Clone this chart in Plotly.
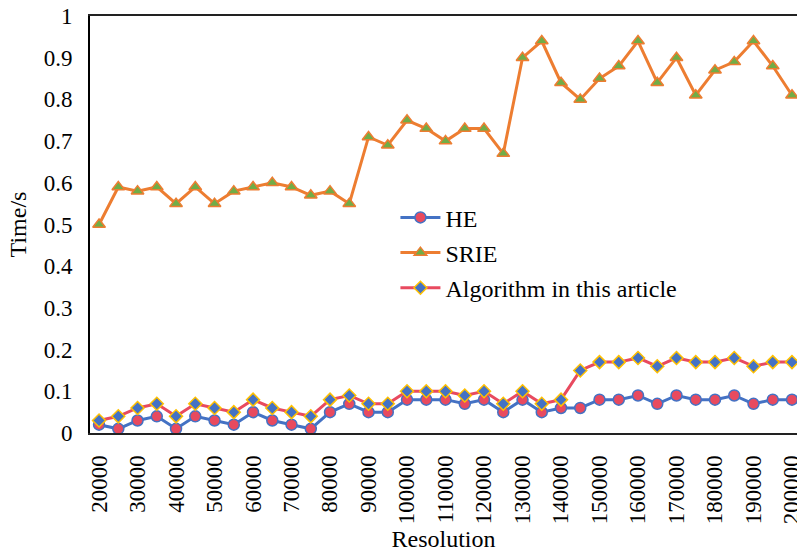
import plotly.graph_objects as go

resolutions = [str(v) for v in range(20000, 200001, 5000)]
he = [0.02, 0.01, 0.03, 0.04, 0.01, 0.04, 0.03, 0.02, 0.05, 0.03, 0.02, 0.01, 0.05, 0.07,
      0.05, 0.05, 0.08, 0.08, 0.08, 0.07, 0.08, 0.05, 0.08, 0.05, 0.06, 0.06, 0.08, 0.08,
      0.09, 0.07, 0.09, 0.08, 0.08, 0.09, 0.07, 0.08, 0.08]
srie = [0.50, 0.59, 0.58, 0.59, 0.55, 0.59, 0.55, 0.58, 0.59, 0.60, 0.59, 0.57, 0.58, 0.55,
        0.71, 0.69, 0.75, 0.73, 0.70, 0.73, 0.73, 0.67, 0.90, 0.94, 0.84, 0.80, 0.85, 0.88,
        0.94, 0.84, 0.90, 0.81, 0.87, 0.89, 0.94, 0.88, 0.81]
algo = [0.03, 0.04, 0.06, 0.07, 0.04, 0.07, 0.06, 0.05, 0.08, 0.06, 0.05, 0.04, 0.08, 0.09,
        0.07, 0.07, 0.10, 0.10, 0.10, 0.09, 0.10, 0.07, 0.10, 0.07, 0.08, 0.15, 0.17, 0.17,
        0.18, 0.16, 0.18, 0.17, 0.17, 0.18, 0.16, 0.17, 0.17]
tick_labels = resolutions[::2]
y_ticks = [0, 0.1, 0.2, 0.3, 0.4, 0.5, 0.6, 0.7, 0.8, 0.9, 1]
y_tick_text = ["0", "0.1", "0.2", "0.3", "0.4", "0.5", "0.6", "0.7", "0.8", "0.9", "1"]

FONT = "'Liberation Serif', 'Times New Roman', Times, serif"

fig = go.Figure()
fig.add_trace(go.Scatter(
    x=resolutions, y=he, name="HE", mode="lines+markers", legendgroup="a",
    line=dict(color="#4472C4", width=3),
    marker=dict(symbol="circle", size=11, color="#E84A5F", line=dict(color="#4472C4", width=1.5)),
    cliponaxis=False))
fig.add_trace(go.Scatter(
    x=resolutions, y=srie, name="SRIE", mode="lines+markers", legendgroup="b",
    line=dict(color="#ED7D31", width=3),
    marker=dict(symbol="triangle-up", size=11, color="#70AD47", line=dict(color="#ED7D31", width=1.5)),
    cliponaxis=False))
fig.add_trace(go.Scatter(
    x=resolutions, y=algo, name="Algorithm in this article", mode="lines+markers", legendgroup="c",
    line=dict(color="#E84A5F", width=3),
    marker=dict(symbol="diamond", size=10, color="#4472C4", line=dict(color="#FFC000", width=1.5)),
    cliponaxis=False))

fig.update_layout(
    width=797, height=552,
    margin=dict(l=90, r=0, t=16, b=119, autoexpand=False),
    paper_bgcolor="white", plot_bgcolor="white",
    font=dict(family=FONT, size=22, color="black"),
    showlegend=True,
    legend=dict(x=0.432, y=0.57, xanchor="left", yanchor="top",
                bgcolor="rgba(0,0,0,0)", font=dict(family=FONT, size=24),
                tracegroupgap=1, itemwidth=40),
)
fig.update_xaxes(
    type="category", range=[-0.47, 36.26], automargin=False,
    tickmode="array", tickvals=tick_labels, ticktext=tick_labels, tickangle=-90,
    showgrid=False, zeroline=False,
    showline=True, linecolor="#222222", linewidth=2, mirror=True,
    ticks="", ticklabelstandoff=11, tickfont=dict(family=FONT, size=23),
    title=dict(text="Resolution", font=dict(family=FONT, size=24), standoff=8),
)
fig.update_yaxes(
    range=[0, 1], automargin=False, tickmode="array", tickvals=y_ticks, ticktext=y_tick_text,
    showgrid=False, zeroline=False,
    showline=True, linecolor="black", linewidth=2,
    ticks="", ticklabelstandoff=11, tickfont=dict(family=FONT, size=23),
    title=dict(text="Time/s", font=dict(family=FONT, size=24), standoff=10),
)

fig.write_html("out.html", config={"displayModeBar": False},
               post_script="document.body.style.margin='0';document.body.style.overflow='hidden';")
